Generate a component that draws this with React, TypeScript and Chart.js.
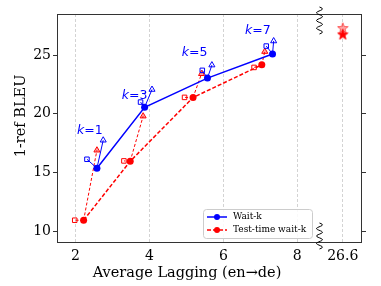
import React, { useEffect, useRef } from 'react';
import { Chart, registerables } from 'chart.js';
Chart.register(...registerables);

// ---- data ----
const xTickValues = [2, 4, 6, 8, 9.23];
const xTickLabels = ['2', '4', '6', '8', '26.6'];
const yTickValues = [10, 15, 20, 25];

const kLabels = ['1', '3', '5', '7'];
const kLabelAL = [2.39, 3.6, 5.22, 6.93];
const kLabelBLEU = [18.6, 21.55, 25.2, 27.06];

const waitkAL = [2.58, 3.87, 5.57, 7.33];
const waitkBLEU = [15.37, 20.56, 23.04, 25.1];
const waitkTriAL = [2.75, 4.07, 5.69, 7.36];
const waitkTriBLEU = [17.75, 22.07, 24.15, 26.2];
const waitkSqAL = [2.31, 3.76, 5.43, 7.16];
const waitkSqBLEU = [16.13, 21.0, 23.7, 25.77];

const testAL = [2.22, 3.48, 5.18, 7.04];
const testBLEU = [10.94, 15.96, 21.39, 24.17];
const testTriAL = [2.58, 3.83, 5.41, 7.12];
const testTriBLEU = [16.9, 19.8, 23.41, 25.3];
const testSqAL = [1.98, 3.31, 4.95, 6.83];
const testSqBLEU = [10.94, 15.99, 21.4, 23.95];

const fullSentPos = 9.23; // plotted position of AL = 26.6
const fullSentBLEU = [27.3, 26.76];

const breakPos = 8.6;

const BLUE = '#0000ff';
const RED = '#ff0000';

function pts(xs: number[], ys: number[]) {
  return xs.map((x, i) => ({ x, y: ys[i] }));
}

function makeStar(fill: string, stroke: string) {
  const c = document.createElement('canvas');
  c.width = 12;
  c.height = 12;
  const ctx = c.getContext('2d')!;
  ctx.beginPath();
  for (let i = 0; i < 10; i++) {
    const r = i % 2 === 0 ? 5.5 : 2.3;
    const a = -Math.PI / 2 + (i * Math.PI) / 5;
    const px = 6 + r * Math.cos(a);
    const py = 6.3 + r * Math.sin(a);
    if (i === 0) ctx.moveTo(px, py);
    else ctx.lineTo(px, py);
  }
  ctx.closePath();
  ctx.fillStyle = fill;
  ctx.fill();
  ctx.strokeStyle = stroke;
  ctx.lineWidth = 0.8;
  ctx.stroke();
  return c;
}

const decorPlugin = {
  id: 'decor',
  afterDraw(chart: any) {
    const { ctx, chartArea, scales } = chart;
    const xs = scales.x;
    const ys = scales.y;
    ctx.save();
    // spines
    ctx.strokeStyle = '#333';
    ctx.lineWidth = 1;
    ctx.setLineDash([]);
    ctx.strokeRect(
      Math.round(chartArea.left) + 0.5,
      Math.round(chartArea.top) + 0.5,
      Math.round(chartArea.right - chartArea.left) - 1,
      Math.round(chartArea.bottom - chartArea.top) - 1
    );
    // break squiggles
    const bx = xs.getPixelForValue(breakPos);
    const squiggle = (y0: number, y1: number) => {
      ctx.beginPath();
      const n = 40;
      for (let i = 0; i <= n; i++) {
        const t = i / n;
        const y = y0 + (y1 - y0) * t;
        const x = bx + 3 * Math.sin(t * Math.PI * 2 * 3.5);
        if (i === 0) ctx.moveTo(x, y);
        else ctx.lineTo(x, y);
      }
      ctx.strokeStyle = '#000';
      ctx.lineWidth = 1;
      ctx.stroke();
    };
    squiggle(chartArea.top - 7, chartArea.top + 20);
    squiggle(chartArea.bottom - 20, chartArea.bottom + 6);

    // k labels
    ctx.fillStyle = BLUE;
    ctx.textBaseline = 'middle';
    kLabels.forEach((lab, i) => {
      const cx = xs.getPixelForValue(kLabelAL[i]);
      const cy = ys.getPixelForValue(kLabelBLEU[i]);
      ctx.font = 'italic 12.5px "DejaVu Sans"';
      const wk = ctx.measureText('k').width;
      ctx.font = '12.5px "DejaVu Sans"';
      const rest = '=' + lab;
      const wr = ctx.measureText(rest).width;
      const x0 = cx - (wk + wr) / 2;
      ctx.textAlign = 'left';
      ctx.font = 'italic 12.5px "DejaVu Sans"';
      ctx.fillText('k', x0, cy);
      ctx.font = '12.5px "DejaVu Sans"';
      ctx.fillText(rest, x0 + wk, cy);
    });

    // legend
    const lx = 203, ly = 209, lw = 109, lh = 29;
    ctx.beginPath();
    ctx.roundRect(lx + 0.5, ly + 0.5, lw, lh, 3);
    ctx.fillStyle = 'rgba(255,255,255,0.85)';
    ctx.fill();
    ctx.strokeStyle = '#cccccc';
    ctx.lineWidth = 1;
    ctx.stroke();
    const rows = [
      { label: 'Wait-k', color: BLUE, dash: [] as number[], y: ly + 8 },
      { label: 'Test-time wait-k', color: RED, dash: [4, 2], y: ly + 21 },
    ];
    rows.forEach((r) => {
      ctx.beginPath();
      ctx.setLineDash(r.dash);
      ctx.strokeStyle = r.color;
      ctx.lineWidth = 1.5;
      ctx.moveTo(lx + 4, r.y);
      ctx.lineTo(lx + 24, r.y);
      ctx.stroke();
      ctx.setLineDash([]);
      ctx.beginPath();
      ctx.arc(lx + 14, r.y, 3, 0, Math.PI * 2);
      ctx.fillStyle = r.color;
      ctx.fill();
      ctx.fillStyle = '#000';
      ctx.font = '9px "DejaVu Serif"';
      ctx.textAlign = 'left';
      ctx.textBaseline = 'middle';
      ctx.fillText(r.label, lx + 30, r.y);
    });

    // axis titles
    ctx.fillStyle = '#000';
    ctx.font = '14.5px "DejaVu Serif"';
    ctx.textAlign = 'center';
    ctx.textBaseline = 'middle';
    ctx.fillText('Average Lagging (en→de)', 187, 273);
    ctx.save();
    ctx.translate(21, 116);
    ctx.rotate(-Math.PI / 2);
    ctx.fillText('1-ref BLEU', 0, 0);
    ctx.restore();
    ctx.restore();
  },
};

export default function App() {
  const ref = useRef<HTMLCanvasElement>(null);
  useEffect(() => {
    document.body.style.margin = '0';
    const starLight = makeStar('rgba(255,0,0,0.35)', '#ff3333');
    const starSolid = makeStar(RED, RED);

    const spokes: any[] = [];
    waitkAL.forEach((_, i) => {
      spokes.push({
        data: [
          { x: waitkAL[i], y: waitkBLEU[i] },
          { x: waitkTriAL[i], y: waitkTriBLEU[i] },
        ],
        showLine: true, borderColor: BLUE, borderWidth: 1, pointRadius: 0, order: 5,
      });
      spokes.push({
        data: [
          { x: waitkAL[i], y: waitkBLEU[i] },
          { x: waitkSqAL[i], y: waitkSqBLEU[i] },
        ],
        showLine: true, borderColor: BLUE, borderWidth: 1, pointRadius: 0, order: 5,
      });
      spokes.push({
        data: [
          { x: testAL[i], y: testBLEU[i] },
          { x: testTriAL[i], y: testTriBLEU[i] },
        ],
        showLine: true, borderColor: RED, borderWidth: 1, borderDash: [3, 2], pointRadius: 0, order: 5,
      });
      spokes.push({
        data: [
          { x: testAL[i], y: testBLEU[i] },
          { x: testSqAL[i], y: testSqBLEU[i] },
        ],
        showLine: true, borderColor: RED, borderWidth: 1, borderDash: [3, 2], pointRadius: 0, order: 5,
      });
    });

    const chart = new Chart(ref.current!, {
      type: 'scatter',
      data: {
        datasets: [
          {
            label: 'Wait-k',
            data: pts(waitkAL, waitkBLEU),
            showLine: true,
            borderColor: BLUE,
            backgroundColor: BLUE,
            borderWidth: 1.5,
            pointRadius: 3.5,
            pointBorderWidth: 0,
            order: 0,
          },
          {
            label: 'Test-time wait-k',
            data: pts(testAL, testBLEU),
            showLine: true,
            borderColor: RED,
            backgroundColor: RED,
            borderDash: [4, 2],
            borderWidth: 1.5,
            pointRadius: 3.5,
            pointBorderWidth: 0,
            order: 1,
          },
          {
            label: 'wait-k tri',
            data: pts(waitkTriAL, waitkTriBLEU),
            pointStyle: 'triangle',
            pointRadius: 3.5,
            borderColor: BLUE,
            backgroundColor: 'rgba(255,255,255,0)',
            pointBorderWidth: 1,
            order: 2,
          },
          {
            label: 'wait-k sq',
            data: pts(waitkSqAL, waitkSqBLEU),
            pointStyle: 'rect',
            pointRadius: 3.2,
            borderColor: BLUE,
            backgroundColor: 'rgba(255,255,255,0)',
            pointBorderWidth: 1,
            order: 2,
          },
          {
            label: 'test tri',
            data: pts(testTriAL, testTriBLEU),
            pointStyle: 'triangle',
            pointRadius: 3.5,
            borderColor: RED,
            backgroundColor: 'rgba(255,0,0,0.35)',
            pointBorderWidth: 1,
            order: 2,
          },
          {
            label: 'test sq',
            data: pts(testSqAL, testSqBLEU),
            pointStyle: 'rect',
            pointRadius: 3.2,
            borderColor: RED,
            backgroundColor: 'rgba(255,255,255,0)',
            pointBorderWidth: 1,
            order: 2,
          },
          {
            label: 'full sentence',
            data: fullSentBLEU.map((y) => ({ x: fullSentPos, y })),
            pointStyle: [starLight, starSolid] as any,
            order: 2,
          },
          ...spokes,
        ],
      },
      options: {
        responsive: false,
        animation: false,
        devicePixelRatio: 1,
        layout: { padding: { top: 14, left: 0, right: 0, bottom: 0 } },
        plugins: { legend: { display: false }, tooltip: { enabled: false } },
        scales: {
          x: {
            type: 'linear',
            min: 1.5,
            max: 9.75,
            afterBuildTicks: (s: any) => {
              s.ticks = xTickValues.map((v) => ({ value: v }));
            },
            afterFit: (s: any) => {
              s.height = 43;
            },
            ticks: {
              autoSkip: false,
              maxRotation: 0,
              padding: 5,
              color: '#000',
              font: { family: '"DejaVu Serif"', size: 14 },
              callback: (v: any) => {
                const i = xTickValues.indexOf(v);
                return i >= 0 ? xTickLabels[i] : '';
              },
            },
            grid: { color: '#c8c8c8', lineWidth: 0.8, drawTicks: false },
            border: { display: false, dash: [3, 2] },
          },
          y: {
            type: 'linear',
            min: 9,
            max: 28.5,
            afterBuildTicks: (s: any) => {
              s.ticks = yTickValues.map((v) => ({ value: v }));
            },
            afterFit: (s: any) => {
              s.width = 57;
            },
            ticks: {
              padding: 2,
              color: '#000',
              font: { family: '"DejaVu Serif"', size: 14 },
              callback: (v: any) => String(v),
            },
            grid: { drawOnChartArea: false, drawTicks: true, tickLength: 4, color: '#333' },
            border: { display: false },
          },
          y2: {
            type: 'linear',
            position: 'right',
            min: 9,
            max: 28.5,
            afterBuildTicks: (s: any) => {
              s.ticks = yTickValues.map((v) => ({ value: v }));
            },
            afterFit: (s: any) => {
              s.width = 19;
            },
            ticks: { display: false },
            grid: { drawOnChartArea: false, drawTicks: true, tickLength: 4, color: '#333' },
            border: { display: false },
          },
        },
      },
      plugins: [decorPlugin],
    });
    return () => chart.destroy();
  }, []);
  return (
    <div style={{ position: 'fixed', left: 0, top: 0, width: 381, height: 286, background: '#fff' }}>
      <canvas ref={ref} width={381} height={286} />
    </div>
  );
}
